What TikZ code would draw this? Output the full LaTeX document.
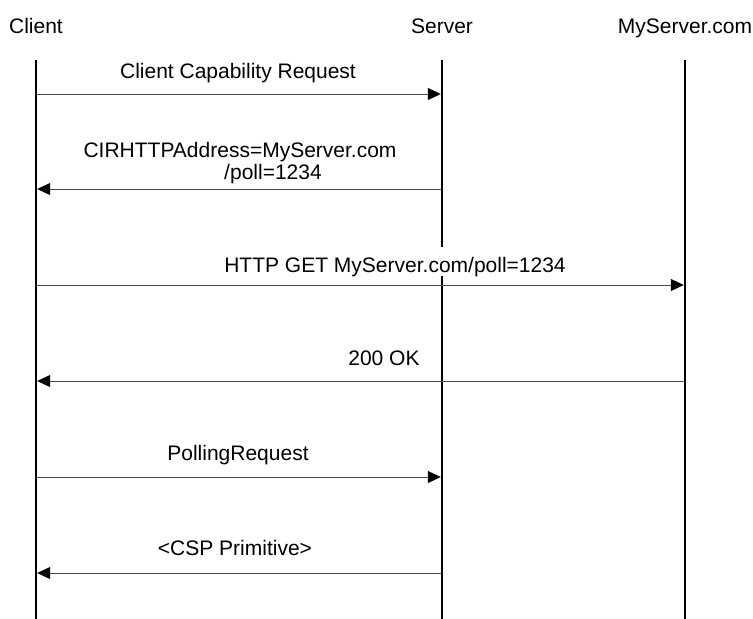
\documentclass[tikz,border=0pt]{standalone}
\usepackage{fontspec}
\setmainfont{Liberation Sans}
\usetikzlibrary{arrows.meta}
\begin{document}
\begin{tikzpicture}[x=1pt,y=-1pt,
  lifeline/.style={line width=2.6pt, black},
  msg/.style={line width=1pt, black!70, shorten >=1.2pt, shorten <=1.2pt,
    -{Triangle[length=13pt,width=12pt,color=black,fill=black]}},
  head/.style={font=\fontsize{21}{25}\selectfont, anchor=base, inner sep=0pt},
  lbl/.style={font=\fontsize{21}{25}\selectfont, anchor=base, inner sep=1pt},
  gap/.style={fill=white, inner sep=0pt, text height=25pt, text depth=4pt}]
\useasboundingbox (0,0) rectangle (753,619);

% headers
\node[head] (hc) at (36,33) {Client};
\node[head] (hs) at (442,33) {Server};
\node[head] (hm) at (685,33) {MyServer.com};

% lifelines
\coordinate (ct) at (36,60);  \coordinate (cb) at (36,619);
\coordinate (st) at (442,60); \coordinate (sb) at (442,619);
\coordinate (mt) at (685,60); \coordinate (mb) at (685,619);
\draw[lifeline] (ct) -- (cb);
\draw[lifeline] (st) -- (sb);
\draw[lifeline] (mt) -- (mb);

% message anchor points
\coordinate (c1) at (36,94);  \coordinate (s1) at (442,94);
\coordinate (c2) at (36,189); \coordinate (s2) at (442,189);
\coordinate (c3) at (36,285); \coordinate (m3) at (685,285);
\coordinate (c4) at (36,381); \coordinate (m4) at (685,381);
\coordinate (c5) at (36,477); \coordinate (s5) at (442,477);
\coordinate (c6) at (36,573); \coordinate (s6) at (442,573);

\draw[msg] (c1) -- (s1);
\draw[msg] (s2) -- (c2);
\draw[msg] (c3) -- (m3);
\draw[msg] (m4) -- (c4);
\draw[msg] (c5) -- (s5);
\draw[msg] (s6) -- (c6);

% labels
\node[lbl] (l1) at (238,78) {Client Capability Request};
\node[lbl] (l2a) at (240,157) {CIRHTTPAddress=MyServer.com};
\node[lbl] (l2b) at (273,179) {/poll=1234};
\node[lbl,gap] (l3) at (395,272) {HTTP GET MyServer.com/poll=1234};
\node[lbl] (l4) at (384,365) {200 OK};
\node[lbl] (l5) at (238,460) {PollingRequest};
\node[lbl] (l6) at (235,555) {<CSP Primitive>};
\end{tikzpicture}
\end{document}
